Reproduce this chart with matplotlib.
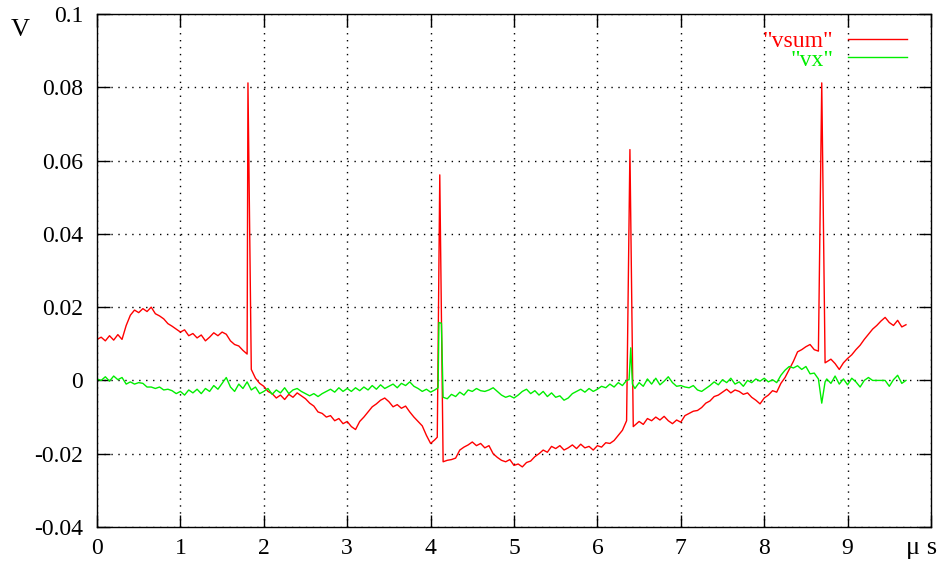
import numpy as np
import matplotlib
matplotlib.use('Agg')
import matplotlib.pyplot as plt

plt.rcParams['font.family'] = 'Liberation Serif'

# "vsum" trace: time (us) and voltage (V)
t_vsum = [0.00, 0.05, 0.10, 0.15, 0.20, 0.25, 0.30, 0.35, 0.40, 0.45,
          0.50, 0.55, 0.60, 0.65, 0.70, 0.75, 0.80, 0.85, 0.90, 0.95,
          1.00, 1.05, 1.10, 1.15, 1.20, 1.25, 1.30, 1.35, 1.40, 1.45,
          1.50, 1.55, 1.60, 1.65, 1.70, 1.75, 1.80,
          1.81,
          1.85, 1.90, 1.95, 2.00, 2.05, 2.10, 2.15, 2.20, 2.25, 2.30,
          2.35, 2.40, 2.45, 2.50, 2.55, 2.60, 2.65, 2.70, 2.75, 2.80,
          2.85, 2.90, 2.95, 3.00, 3.05, 3.10, 3.15, 3.20, 3.25, 3.30,
          3.35, 3.40, 3.45, 3.50, 3.55, 3.60, 3.65, 3.70, 3.75, 3.80,
          3.85, 3.90, 3.95, 4.00, 4.05,
          4.08, 4.11, 4.15,
          4.20, 4.25, 4.30, 4.35, 4.40, 4.45, 4.50, 4.55, 4.60, 4.65,
          4.70, 4.75, 4.80, 4.85, 4.90, 4.95, 5.00, 5.05, 5.10, 5.15,
          5.20, 5.25, 5.30, 5.35, 5.40, 5.45, 5.50, 5.55, 5.60, 5.65,
          5.70, 5.75, 5.80, 5.85, 5.90, 5.95, 6.00, 6.05, 6.10, 6.15,
          6.20, 6.25, 6.30, 6.35,
          6.39, 6.43,
          6.50, 6.55, 6.60, 6.65, 6.70, 6.75, 6.80, 6.85, 6.90, 6.95,
          7.00, 7.05, 7.10, 7.15, 7.20, 7.25, 7.30, 7.35, 7.40, 7.45,
          7.50, 7.55, 7.60, 7.65, 7.70, 7.75, 7.80, 7.85, 7.90, 7.95,
          8.00, 8.05, 8.10, 8.15, 8.20, 8.25, 8.30, 8.35, 8.40, 8.45,
          8.50, 8.55, 8.60, 8.65,
          8.69, 8.73,
          8.80, 8.85, 8.90, 8.95, 9.00, 9.05, 9.10, 9.15, 9.20, 9.25,
          9.30, 9.35, 9.40, 9.45, 9.50, 9.55, 9.60, 9.65, 9.70]
v_vsum = [0.0112, 0.0118, 0.0108, 0.0122, 0.0110, 0.0125, 0.0112, 0.0150, 0.0178, 0.0192,
          0.0185, 0.0196, 0.0188, 0.0200, 0.0182, 0.0176, 0.0168, 0.0155, 0.0148, 0.0140,
          0.0132, 0.0138, 0.0122, 0.0128, 0.0116, 0.0124, 0.0108, 0.0118, 0.0130, 0.0122,
          0.0132, 0.0126, 0.0108, 0.0098, 0.0094, 0.0082, 0.0072,
          0.0812,
          0.0030, 0.0006, -0.0008, -0.0016, -0.0030, -0.0036, -0.0048, -0.0040, -0.0052, -0.0038,
          -0.0046, -0.0034, -0.0042, -0.0050, -0.0062, -0.0070, -0.0086, -0.0090, -0.0100, -0.0096,
          -0.0110, -0.0104, -0.0118, -0.0112, -0.0126, -0.0134, -0.0112, -0.0100, -0.0086, -0.0072,
          -0.0064, -0.0054, -0.0048, -0.0058, -0.0072, -0.0066, -0.0076, -0.0070, -0.0086, -0.0100,
          -0.0112, -0.0124, -0.0150, -0.0172, -0.0162,
          -0.0155, 0.0561, -0.0222,
          -0.0218, -0.0216, -0.0212, -0.0190, -0.0182, -0.0176, -0.0168, -0.0178, -0.0172, -0.0184,
          -0.0178, -0.0200, -0.0210, -0.0218, -0.0222, -0.0216, -0.0232, -0.0228, -0.0236, -0.0224,
          -0.0220, -0.0208, -0.0200, -0.0190, -0.0196, -0.0180, -0.0186, -0.0178, -0.0190, -0.0184,
          -0.0176, -0.0186, -0.0174, -0.0184, -0.0180, -0.0190, -0.0178, -0.0182, -0.0170, -0.0172,
          -0.0164, -0.0150, -0.0136, -0.0110,
          0.0630, -0.0126,
          -0.0112, -0.0120, -0.0104, -0.0110, -0.0100, -0.0108, -0.0098, -0.0110, -0.0118, -0.0108,
          -0.0114, -0.0096, -0.0090, -0.0084, -0.0082, -0.0074, -0.0062, -0.0056, -0.0044, -0.0040,
          -0.0032, -0.0024, -0.0034, -0.0026, -0.0030, -0.0038, -0.0034, -0.0046, -0.0054, -0.0064,
          -0.0048, -0.0040, -0.0028, -0.0032, -0.0008, 0.0008, 0.0030, 0.0052, 0.0078, 0.0084,
          0.0092, 0.0098, 0.0084, 0.0080,
          0.0812, 0.0048,
          0.0058, 0.0046, 0.0030, 0.0048, 0.0060, 0.0070, 0.0084, 0.0096, 0.0112, 0.0126,
          0.0140, 0.0150, 0.0162, 0.0172, 0.0158, 0.0150, 0.0164, 0.0146, 0.0152]

# "vx" trace
t_vx = [0.00, 0.05, 0.10, 0.15, 0.20, 0.25, 0.30, 0.35, 0.40, 0.45,
        0.50, 0.55, 0.60, 0.65, 0.70, 0.75, 0.80, 0.85, 0.90, 0.95,
        1.00, 1.05, 1.10, 1.15, 1.20, 1.25, 1.30, 1.35, 1.40, 1.45,
        1.50, 1.55, 1.60, 1.65, 1.70, 1.75, 1.80, 1.85, 1.90, 1.95,
        2.00, 2.05, 2.10, 2.15, 2.20, 2.25, 2.30, 2.35, 2.40, 2.45,
        2.50, 2.55, 2.60, 2.65, 2.70, 2.75, 2.80, 2.85, 2.90, 2.95,
        3.00, 3.05, 3.10, 3.15, 3.20, 3.25, 3.30, 3.35, 3.40, 3.45,
        3.50, 3.55, 3.60, 3.65, 3.70, 3.75, 3.80, 3.85, 3.90, 3.95,
        4.00, 4.05,
        4.09, 4.10, 4.13, 4.15,
        4.20, 4.25, 4.30, 4.35, 4.40, 4.45, 4.50, 4.55, 4.60, 4.65,
        4.70, 4.75, 4.80, 4.85, 4.90, 4.95, 5.00, 5.05, 5.10, 5.15,
        5.20, 5.25, 5.30, 5.35, 5.40, 5.45, 5.50, 5.55, 5.60, 5.65,
        5.70, 5.75, 5.80, 5.85, 5.90, 5.95, 6.00, 6.05, 6.10, 6.15,
        6.20, 6.25, 6.30, 6.35,
        6.38, 6.40, 6.42,
        6.45, 6.50, 6.55, 6.60, 6.65, 6.70, 6.75, 6.80, 6.85, 6.90,
        6.95, 7.00, 7.05, 7.10, 7.15, 7.20, 7.25, 7.30, 7.35, 7.40,
        7.45, 7.50, 7.55, 7.60, 7.65, 7.70, 7.75, 7.80, 7.85, 7.90,
        7.95, 8.00, 8.05, 8.10, 8.15, 8.20, 8.25, 8.30, 8.35, 8.40,
        8.45, 8.50, 8.55, 8.60, 8.65,
        8.69, 8.73,
        8.75, 8.80, 8.85, 8.90, 8.95, 9.00, 9.05, 9.10, 9.15, 9.20,
        9.25, 9.30, 9.35, 9.40, 9.45, 9.50, 9.55, 9.60, 9.65, 9.70]
v_vx = [0.0004, 0.0000, 0.0010, -0.0002, 0.0012, 0.0002, 0.0008, -0.0010, -0.0004, -0.0010,
        -0.0006, -0.0008, -0.0018, -0.0018, -0.0022, -0.0018, -0.0026, -0.0024, -0.0028, -0.0036,
        -0.0030, -0.0040, -0.0026, -0.0034, -0.0024, -0.0036, -0.0022, -0.0030, -0.0014, -0.0024,
        -0.0008, 0.0008, -0.0018, -0.0030, -0.0010, -0.0022, -0.0004, -0.0026, -0.0018, -0.0036,
        -0.0030, -0.0022, -0.0038, -0.0026, -0.0034, -0.0020, -0.0036, -0.0026, -0.0022, -0.0030,
        -0.0036, -0.0042, -0.0036, -0.0044, -0.0036, -0.0030, -0.0024, -0.0032, -0.0020, -0.0030,
        -0.0022, -0.0030, -0.0020, -0.0028, -0.0018, -0.0026, -0.0014, -0.0024, -0.0012, -0.0022,
        -0.0016, -0.0010, -0.0020, -0.0008, -0.0014, -0.0004, -0.0016, -0.0022, -0.0030, -0.0024,
        -0.0032, -0.0026,
        -0.0020, 0.0158, 0.0156, -0.0046,
        -0.0050, -0.0038, -0.0044, -0.0032, -0.0040, -0.0026, -0.0030, -0.0022, -0.0028, -0.0030,
        -0.0026, -0.0020, -0.0030, -0.0040, -0.0046, -0.0042, -0.0048, -0.0040, -0.0030, -0.0024,
        -0.0036, -0.0028, -0.0040, -0.0030, -0.0044, -0.0034, -0.0046, -0.0042, -0.0054, -0.0048,
        -0.0036, -0.0030, -0.0024, -0.0032, -0.0022, -0.0030, -0.0024, -0.0016, -0.0020, -0.0010,
        -0.0018, -0.0006, -0.0014, 0.0000,
        0.0002, 0.0089, -0.0010,
        -0.0022, -0.0006, -0.0016, 0.0004, -0.0010, 0.0006, -0.0012, -0.0002, 0.0010, -0.0006,
        -0.0016, -0.0014, -0.0018, -0.0020, -0.0014, -0.0026, -0.0030, -0.0022, -0.0014, -0.0004,
        -0.0012, 0.0002, -0.0006, 0.0006, -0.0010, -0.0004, -0.0016, 0.0000, -0.0006, 0.0004,
        -0.0002, 0.0006, -0.0004, 0.0002, -0.0006, 0.0014, 0.0028, 0.0038, 0.0034, 0.0040,
        0.0030, 0.0038, 0.0018, 0.0020, 0.0004,
        -0.0062, -0.0004,
        0.0004, -0.0008, 0.0012, -0.0010, 0.0004, -0.0012, 0.0006, -0.0004, -0.0018, 0.0000,
        0.0008, 0.0000, 0.0000, 0.0000, 0.0000, -0.0016, 0.0002, 0.0014, -0.0008, 0.0000]

x_ticks = [0, 1, 2, 3, 4, 5, 6, 7, 8, 9, 10]
x_labels = ['0', '1', '2', '3', '4', '5', '6', '7', '8', '9', '']
y_ticks = [-0.04, -0.02, 0, 0.02, 0.04, 0.06, 0.08, 0.1]
y_labels = ['-0.04', '-0.02', '0', '0.02', '0.04', '0.06', '0.08', '0.1']

fig = plt.figure(figsize=(9.41, 5.62), dpi=100)
ax = fig.add_axes([97 / 941, 35 / 562, 834 / 941, 513 / 562])

ax.plot(t_vsum, v_vsum, color='#ff0000', lw=1.0, label='"vsum"')
ax.plot(t_vx, v_vx, color='#00ee00', lw=1.0, label='"vx"')

ax.set_xlim(0, 10)
ax.set_ylim(-0.04, 0.1)
ax.set_xticks(x_ticks)
ax.set_xticklabels(x_labels)
ax.set_yticks(y_ticks)
ax.set_yticklabels(y_labels)
ax.tick_params(direction='in', top=True, right=True, length=9, width=1,
               labelsize=17)
ax.tick_params(axis='y', pad=10)
ax.tick_params(axis='x', pad=8)
ax.grid(True, color='black', linestyle=(0, (1, 4)), linewidth=1)
for sp in ax.spines.values():
    sp.set_linewidth(1)

ax.legend(loc='upper right', bbox_to_anchor=(0.971, 0.968), frameon=False,
          markerfirst=False, handlelength=2.5, handletextpad=0.6,
          labelspacing=-0.12, borderpad=0, borderaxespad=0, fontsize=17,
          labelcolor='linecolor')

fig.text(20 / 941, 1 - 30 / 562, 'V', fontsize=19, ha='center', va='center')
fig.text(922 / 941, 1 - 548 / 562, 'μ s', fontsize=19, ha='center', va='center')

fig.savefig('out.png', dpi=100)
